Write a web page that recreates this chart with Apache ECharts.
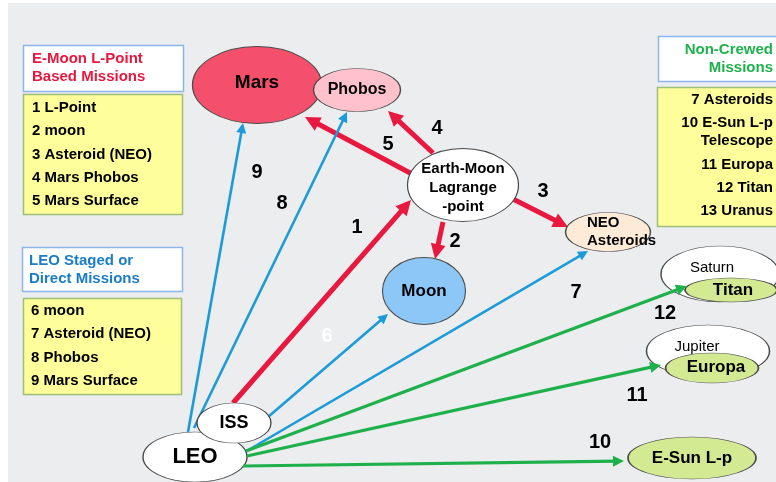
<!DOCTYPE html>
<html>
<head>
<meta charset="utf-8">
<script src="https://cdn.jsdelivr.net/npm/echarts@6/dist/echarts.min.js"></script>
<style>html,body{margin:0;padding:0;background:#fff}#c{width:776px;height:482px}</style>
</head>
<body>
<div id="c"></div>
<script>
// ---------- DATA ----------
const nodeIds    = ['LEO','ISS','Mars','Phobos','Lagrange','NEO','Moon','Saturn','Titan','Jupiter','Europa','ESun'];
const nodeLabels = ['LEO','ISS','Mars','Phobos','Earth-Moon\nLagrange\n-point','NEO\nAsteroids','Moon','Saturn','Titan','Jupiter','Europa','E-Sun L-p'];

const edgeLabels = ['1','2','3','4','5','6','7','8','9','10','11','12'];
const edgeFrom   = ['ISS','Lagrange','Lagrange','Lagrange','Lagrange','ISS','LEO','LEO','LEO','LEO','LEO','LEO'];
const edgeTo     = ['Lagrange','Moon','NEO','Phobos','Mars','Moon','NEO','Phobos','Mars','ESun','Europa','Titan'];
const edgeGroup  = ['red','red','red','red','red','blue','blue','blue','blue','green','green','green'];

const titleA = 'E-Moon L-Point\nBased Missions';
const itemsA = ['1 L-Point','2 moon','3 Asteroid (NEO)','4 Mars Phobos','5 Mars Surface'];
const titleB = 'LEO Staged or\nDirect Missions';
const itemsB = ['6 moon','7 Asteroid (NEO)','8 Phobos','9 Mars Surface'];
const titleC = 'Non-Crewed\nMissions';
const itemsC = ['7 Asteroids','10 E-Sun L-p\nTelescope','11 Europa','12 Titan','13 Uranus'];

// ---------- LAYOUT (diagram space = 776 x 482) ----------
const nodePos = {
  LEO:[195,457], ISS:[234,423], Mars:[257,85], Phobos:[357,90], Lagrange:[463,185],
  NEO:[608,232], Moon:[424,291], Saturn:[720,274], Titan:[731,290], Jupiter:[708,351],
  Europa:[712,368], ESun:[692,458]
};
const nodeSize = {
  LEO:[104,50], ISS:[74,40], Mars:[129,77], Phobos:[87,43], Lagrange:[111,73],
  NEO:[85,39], Moon:[83,67], Saturn:[118,56], Titan:[92,24], Jupiter:[123,52],
  Europa:[93,30], ESun:[128,42]
};
const nodeFill = {
  LEO:'#ffffff', ISS:'#ffffff', Mars:'#F4506C', Phobos:'#FFC2CD', Lagrange:'#ffffff',
  NEO:'#FDEBD7', Moon:'#8CC7F8', Saturn:'#ffffff', Titan:'#D3EA92', Jupiter:'#ffffff',
  Europa:'#D3EA92', ESun:'#D3EA92'
};
const nodeFont = {
  LEO:[22,'bold'], ISS:[18,'bold'], Mars:[19,'bold'], Phobos:[16,'bold'], Lagrange:[15,'bold'],
  NEO:[15,'bold'], Moon:[17,'bold'], Saturn:[15,'normal'], Titan:[17,'bold'], Jupiter:[15,'normal'],
  Europa:[17,'bold'], ESun:[17,'bold']
};
const nodeLabelOffset = {
  Lagrange:[0,3], NEO:[-21,0], Saturn:[-8,-6], Jupiter:[-11,-4], Titan:[2,0], Europa:[4,-1], Mars:[0,-2]
};
const edgeStart = {
  '1':[233,403],'2':[443,222],'3':[513,199],'4':[433,153],'5':[412,174],
  '6':[268,417],'7':[245,452],'8':[194,428],'9':[188,432],
  '10':[243,466],'11':[247,456],'12':[246,451]
};
const edgeTip = {
  '1':[411,200],'2':[435,259],'3':[568,227],'4':[388,111],'5':[305,117],
  '6':[388,314],'7':[588,251],'8':[347,112],'9':[243,123],
  '10':[624,461],'11':[661,365],'12':[687,286]
};
const edgeLabelPos = {
  '1':[357,227],'2':[455,241],'3':[543,191],'4':[437,128],'5':[388,144],
  '6':[327,336],'7':[576,292],'8':[282,203],'9':[257,172],
  '10':[600,442],'11':[637,395],'12':[665,313]
};
const groupStyle = {
  red:  {color:'#E8183F', width:5,   head:15, z:2},
  blue: {color:'#1B9BD7', width:2.6, head:10, z:2},
  green:{color:'#1EB14B', width:3.2, head:11, z:4}
};
const FF = '"Liberation Sans", Arial, sans-serif';

// ---------- BUILD ----------
const nodeData = nodeIds.map((id, i) => {
  const f = nodeFont[id];
  const off = nodeLabelOffset[id] || [0,0];
  return {
    name: nodeLabels[i],
    value: nodePos[id],
    symbolSize: nodeSize[id],
    itemStyle: {color: nodeFill[id], borderColor: '#4a4a4a', borderWidth: 1, opacity: 1},
    label: {
      show: true, position: 'inside', formatter: '{b}',
      color: '#000', textBorderWidth: 0, fontFamily: FF, fontSize: f[0], fontWeight: f[1],
      lineHeight: id === 'Lagrange' ? 19 : (id === 'NEO' ? 18 : f[0] + 2),
      align: id === 'NEO' ? 'left' : 'center',
      offset: off
    }
  };
});

function edgeSeries(group) {
  const st = groupStyle[group];
  const data = [];
  edgeLabels.forEach((lab, i) => {
    if (edgeGroup[i] !== group) return;
    const s = edgeStart[lab], t = edgeTip[lab];
    const dx = t[0] - s[0], dy = t[1] - s[1];
    const L = Math.sqrt(dx*dx + dy*dy);
    const e = [t[0] - dx / L * st.head / 2, t[1] - dy / L * st.head / 2];
    data.push({name: lab, coords: [s, e]});
  });
  return {
    type: 'lines', coordinateSystem: 'cartesian2d', z: st.z, silent: true,
    symbol: ['none', 'triangle'], symbolSize: [1, st.head],
    lineStyle: {color: st.color, width: st.width, opacity: 1, curveness: 0},
    data
  };
}

const edgeLabelData = edgeLabels.map(lab => ({
  name: lab, value: edgeLabelPos[lab],
  label: {color: lab === '6' ? '#ffffff' : '#000000'}
}));

function panelText(x, y, text, color, align) {
  return {
    type: 'text', x, y, z: 10,
    style: {text, fill: color, font: 'bold 15px ' + FF, align, verticalAlign: 'middle', lineHeight: 18}
  };
}
function listTexts(x, y0, items, align) {
  const out = [];
  let y = y0;
  items.forEach(t => {
    const n = t.split('\n').length;
    out.push(panelText(x, y + (n - 1) * 9, t, '#000000', align));
    y += 23.3 + (n - 1) * 18;
  });
  return out;
}

const graphic = [
  {type:'rect', shape:{x:0,y:0,width:8,height:482}, style:{fill:'#ffffff'}, z:-1},
  {type:'rect', shape:{x:0,y:0,width:776,height:3}, style:{fill:'#ffffff'}, z:-1},
  // Panel A
  {type:'rect', shape:{x:23.5,y:45.5,width:160,height:46}, style:{fill:'#ffffff', stroke:'#8EB4EC', lineWidth:1.5}, z:5},
  panelText(32, 68, titleA, '#E8183F', 'left'),
  {type:'rect', shape:{x:23.5,y:94.5,width:159,height:120}, style:{fill:'#FEFE9A', stroke:'#9CC07A', lineWidth:1.5}, z:5},
  ...listTexts(32, 108, itemsA, 'left'),
  // Panel B
  {type:'rect', shape:{x:22.5,y:247.5,width:160,height:44}, style:{fill:'#ffffff', stroke:'#8EB4EC', lineWidth:1.5}, z:5},
  panelText(29, 269.5, titleB, '#1A7DC6', 'left'),
  {type:'rect', shape:{x:23.5,y:298.5,width:158,height:96}, style:{fill:'#FEFE9A', stroke:'#9CC07A', lineWidth:1.5}, z:5},
  ...listTexts(31, 311, itemsB, 'left'),
  // Panel C
  {type:'rect', shape:{x:658.5,y:36.5,width:130,height:45}, style:{fill:'#ffffff', stroke:'#8EB4EC', lineWidth:1.5}, z:5},
  panelText(773, 58.5, titleC, '#1EB14B', 'right'),
  {type:'rect', shape:{x:657.5,y:87.5,width:130,height:139}, style:{fill:'#FEFE9A', stroke:'#9CC07A', lineWidth:1.5}, z:5},
  ...listTexts(773, 100, itemsC, 'right')
];

const option = {
  animation: false,
  backgroundColor: '#ECEDEF',
  grid: {left: 0, right: 0, top: 0, bottom: 0, containLabel: false},
  xAxis: {type: 'value', min: 0, max: 776, show: false},
  yAxis: {type: 'value', min: 0, max: 482, inverse: true, show: false},
  graphic,
  series: [
    edgeSeries('red'), edgeSeries('blue'), edgeSeries('green'),
    {
      type: 'scatter', z: 3, silent: true, clip: false, symbol: 'circle',
      data: nodeData
    },
    {
      type: 'scatter', z: 5, silent: true, clip: false, symbolSize: 0,
      itemStyle: {opacity: 1, color: 'transparent'},
      label: {show: true, position: 'inside', formatter: '{b}', fontFamily: FF, fontSize: 20, fontWeight: 'bold', textBorderWidth: 0},
      data: edgeLabelData
    }
  ]
};

const chart = echarts.init(document.getElementById('c'), null, {renderer: 'canvas'});
chart.setOption(option);
</script>
</body>
</html>
